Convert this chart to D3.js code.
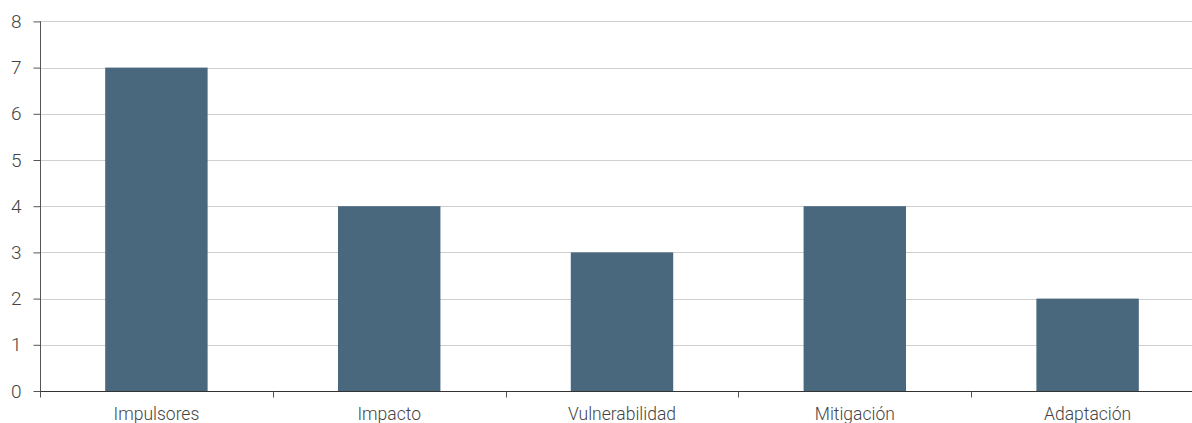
<!DOCTYPE html>
<html>
<head>
<meta charset="utf-8">
<script src="https://cdn.jsdelivr.net/npm/d3@7"></script>
<style>
  html, body { margin: 0; padding: 0; background: #fff; }
  svg { display: block; }
  text { font-family: Roboto, "Open Sans", sans-serif; font-weight: 300; fill: #444; }
</style>
</head>
<body>
<svg id="chart" width="1192" height="423"></svg>
<script>
const categories = ["Impulsores", "Impacto", "Vulnerabilidad", "Mitigación", "Adaptación"];
const counts = [7, 4, 3, 4, 2];
const yTicks = [0, 1, 2, 3, 4, 5, 6, 7, 8];

const svg = d3.select("#chart");
const W = 1192;
const plotLeft = 40, plotBottom = 391, plotTop = 21.4;

const x = d3.scaleBand().domain(categories).range([plotLeft, 1204]).paddingInner(0.56).paddingOuter(0.28);
const y = d3.scaleLinear().domain([0, 8]).range([plotBottom, plotTop]);

// horizontal gridlines
svg.append("g").selectAll("line").data(yTicks.filter(d => d > 0)).join("line")
  .attr("x1", plotLeft).attr("x2", W)
  .attr("y1", d => Math.round(y(d)) + 0.5).attr("y2", d => Math.round(y(d)) + 0.5)
  .attr("stroke", "#cfcfcf").attr("stroke-width", 1);

// bars
svg.append("g").selectAll("rect").data(categories).join("rect")
  .attr("x", d => x(d))
  .attr("width", x.bandwidth())
  .attr("y", (d, i) => y(counts[i]))
  .attr("height", (d, i) => y(0) - y(counts[i]))
  .attr("fill", "#49687d");

// y axis
const yAxis = svg.append("g").attr("transform", `translate(${plotLeft + 0.5},0)`)
  .call(d3.axisLeft(y).tickValues(yTicks).tickSize(7).tickPadding(12).tickFormat(d3.format("d")));
yAxis.select(".domain").attr("d", `M0,${plotTop}V${plotBottom + 6}`).attr("stroke", "#555");
yAxis.selectAll(".tick line").attr("stroke", "#555");
yAxis.selectAll(".tick text").style("font-size", "19px").attr("fill", "#444");

// x axis: ticks at category boundaries
const step = x.step();
const bounds = d3.range(categories.length + 1).map(i => x(categories[0]) - x.paddingOuter() * step + i * step);
const xAxis = svg.append("g").attr("transform", `translate(0,${plotBottom + 0.5})`);
xAxis.append("line").attr("x1", plotLeft).attr("x2", W).attr("stroke", "#333").attr("stroke-width", 1.2);
xAxis.selectAll("line.tick").data(bounds).join("line").attr("class", "tick")
  .attr("x1", d => Math.round(d) + 0.5).attr("x2", d => Math.round(d) + 0.5)
  .attr("y1", 0).attr("y2", 6).attr("stroke", "#555");
xAxis.selectAll("text").data(categories).join("text")
  .attr("x", d => x(d) + x.bandwidth() / 2)
  .attr("y", 28)
  .attr("text-anchor", "middle")
  .style("font-size", "17.5px")
  .text(d => d);
</script>
</body>
</html>
